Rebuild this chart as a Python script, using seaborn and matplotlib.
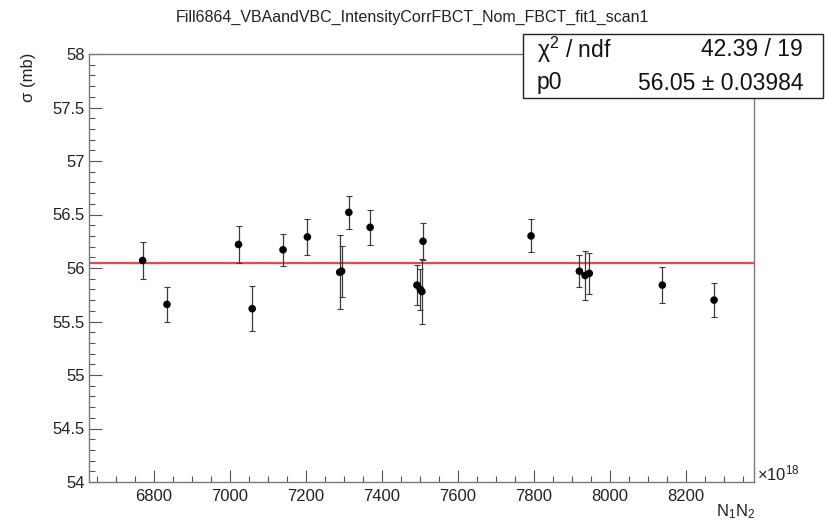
import matplotlib
matplotlib.use("Agg")
import matplotlib.pyplot as plt
from matplotlib.ticker import MultipleLocator, FuncFormatter
import seaborn as sns
import pandas as pd

# Luminosity product N1*N2 (in units of 1e18) per scan step
n1n2 = [6771, 6835, 7023, 7059, 7140, 7204, 7289, 7294, 7313, 7369,
        7492, 7501, 7505, 7508, 7792, 7919, 7934, 7945, 8137, 8273]
# Measured visible cross section (mb) and its uncertainty
sigma = [56.07, 55.66, 56.22, 55.62, 56.17, 56.29, 55.96, 55.97, 56.52, 56.38,
         55.84, 55.80, 55.78, 56.25, 56.30, 55.97, 55.93, 55.95, 55.84, 55.70]
sigma_err = [0.175, 0.16, 0.17, 0.21, 0.15, 0.165, 0.345, 0.24, 0.155, 0.165,
             0.19, 0.19, 0.30, 0.175, 0.155, 0.15, 0.23, 0.19, 0.165, 0.16]

# Constant fit result
p0 = 56.05
p0_err = 0.03984
chi2 = 42.39
ndf = 19

title = "Fill6864_VBAandVBC_IntensityCorrFBCT_Nom_FBCT_fit1_scan1"

sns.set_theme(style="white")
plt.rcParams["font.family"] = ["Liberation Sans", "DejaVu Sans"]
plt.rcParams["mathtext.fontset"] = "dejavusans"

df = pd.DataFrame({"n1n2": n1n2, "sigma": sigma, "err": sigma_err})

fig = plt.figure(figsize=(8.25, 5.26), dpi=100)
ax = fig.add_axes([89 / 825, 1 - 482 / 526, (754 - 89) / 825, (482 - 54) / 526])

ax.axhline(p0, color="#f04545", lw=1.6, zorder=1)
ax.errorbar(df["n1n2"], df["sigma"], yerr=df["err"], fmt="none",
            ecolor="#3a3a3a", elinewidth=0.9, capsize=2, capthick=0.8, zorder=2)
sns.scatterplot(data=df, x="n1n2", y="sigma", color="black", s=30,
                edgecolor="none", ax=ax, zorder=3)

ax.set_xlim(6630, 8378)
ax.set_ylim(54, 58)
ax.xaxis.set_major_locator(MultipleLocator(200))
ax.xaxis.set_minor_locator(MultipleLocator(50))
ax.yaxis.set_major_locator(MultipleLocator(0.5))
ax.yaxis.set_minor_locator(MultipleLocator(0.1))
ax.yaxis.set_major_formatter(FuncFormatter(lambda v, _: f"{v:g}"))

for side in ["left", "bottom", "right", "top"]:
    ax.spines[side].set_visible(True)
    ax.spines[side].set_color("#7a7a7a")
    ax.spines[side].set_linewidth(1.0)

ax.tick_params(which="both", direction="in", color="#555555", width=0.8,
               bottom=True, left=True, top=False, right=False,
               labelsize=12, labelcolor="#222222")
ax.tick_params(which="major", length=9)
ax.tick_params(which="minor", length=4.5)
ax.tick_params(axis="x", which="major", pad=5)
ax.tick_params(axis="y", which="major", pad=3)

ax.set_xlabel("")
ax.set_ylabel("")
fig.text(28 / 825, 1 - 53 / 526, "σ (mb)", rotation=90, ha="center", va="top",
         fontsize=12, color="#222222")
fig.text(755 / 825, 1 - 512 / 526, r"N$\mathregular{_1}$N$\mathregular{_2}$",
         ha="right", va="center", fontsize=12, color="#222222")
fig.text(757 / 825, 1 - 473 / 526, r"$\mathregular{\times10^{18}}$",
         ha="left", va="center", fontsize=12, color="#222222")

fig.text(0.5, 1 - 17 / 526, title, ha="center", va="center",
         fontsize=11.5, color="#222222")

# Fit statistics box
box_l, box_r = 523 / 825, 823 / 825
box_b, box_t = 1 - 98 / 526, 1 - 34 / 526
fig.patches.append(plt.Rectangle((box_l, box_b), box_r - box_l, box_t - box_b,
                                 transform=fig.transFigure, facecolor="white",
                                 edgecolor="#222222", lw=1.0, zorder=5))
fig.text(537 / 825, 1 - 50 / 526, r"$\mathregular{\chi^2}$ / ndf", ha="left",
         va="center", fontsize=16.5, color="#111111", zorder=6)
fig.text(803 / 825, 1 - 50 / 526, f"{chi2:.2f} / {ndf}", ha="right",
         va="center", fontsize=16.5, color="#111111", zorder=6)
fig.text(537 / 825, 1 - 83 / 526, "p0", ha="left", va="center",
         fontsize=16.5, color="#111111", zorder=6)
fig.text(803 / 825, 1 - 83 / 526, f"{p0:.2f} ± {p0_err:.5f}", ha="right",
         va="center", fontsize=16.5, color="#111111", zorder=6)

fig.savefig("out.png", dpi=100, facecolor="white")
